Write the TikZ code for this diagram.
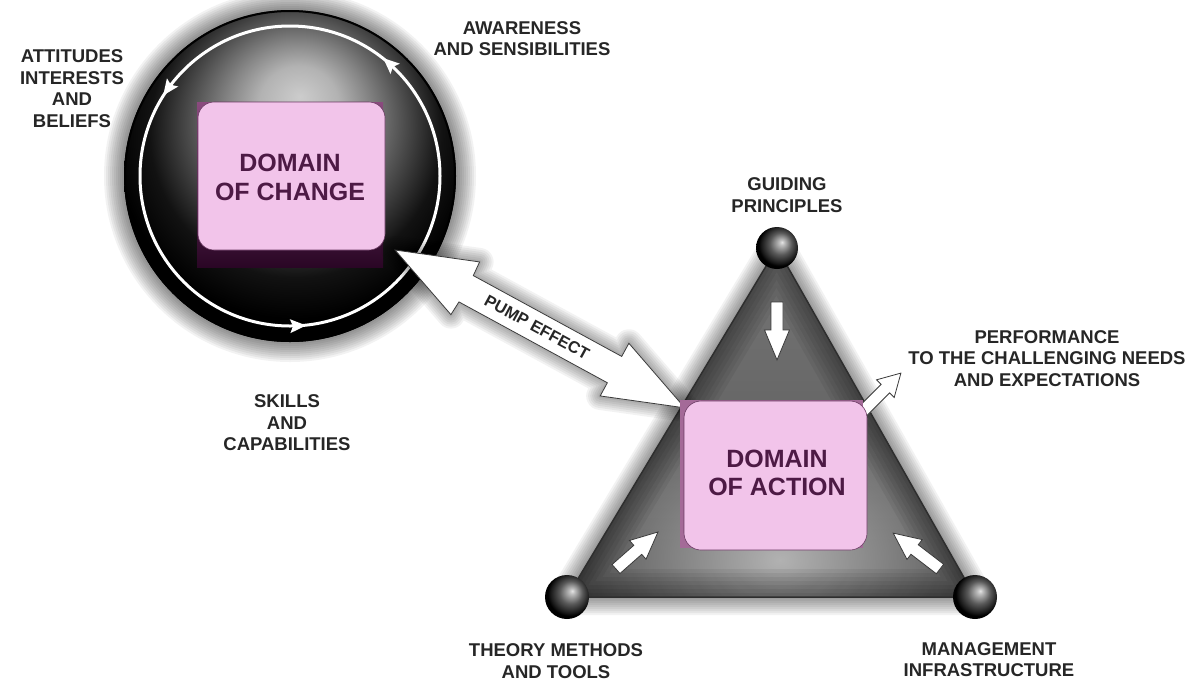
\documentclass[tikz,border=0pt]{standalone}
\usepackage{fontspec}
\setmainfont{Liberation Sans}
\usetikzlibrary{fadings}
\definecolor{pinkf}{HTML}{F2C4EA}
\definecolor{pinkE}{HTML}{6A3A62}
\definecolor{pinktx}{HTML}{4D1A45}
\definecolor{mauve}{HTML}{A46A98}
\definecolor{mauveT}{HTML}{8A4A7E}
\definecolor{mauveD}{HTML}{2A0625}
\definecolor{labeltx}{HTML}{262626}
\definecolor{triA}{HTML}{767676}
\definecolor{triB}{HTML}{555555}
\definecolor{triL}{HTML}{B2B2B2}
\definecolor{triE}{HTML}{2E2E2E}
\definecolor{arrE}{HTML}{3A3A3A}
\pgfdeclareradialshading{cbody}{\pgfpoint{1.5bp}{12bp}}{color(0bp)=(white!80!black); color(6bp)=(white!70!black); color(10.5bp)=(white!53!black); color(17bp)=(white!27!black); color(22bp)=(white!7!black); color(27bp)=(black); color(50bp)=(black)}
\pgfdeclareradialshading{sball}{\pgfpoint{6bp}{7bp}}{color(0bp)=(white!90!black); color(3bp)=(white!75!black); color(13bp)=(white!35!black); color(22bp)=(black!90); color(25bp)=(black); color(50bp)=(black)}
\tikzfading[name=radfade, inner color=transparent!0, outer color=transparent!100]
\tikzset{
  lbl/.style={font=\bfseries\fontsize{18.5}{21.5}\selectfont, text=labeltx, align=center, inner sep=0pt},
  boxtxt/.style={font=\bfseries\fontsize{25}{28.5}\selectfont, text=pinktx, align=center, inner sep=0pt},
  pumptxt/.style={font=\bfseries\fontsize{16.5}{18}\selectfont, text=labeltx, inner sep=0pt},
  blk/.style={fill=white, draw=arrE, line width=0.8pt, line join=miter},
  halo/.style={line join=round, draw=black, opacity=0.05},
  pinkbox/.style={fill=pinkf, draw=pinkE, line width=0.6pt},
}
\newcommand\blkarr[7]{%
  \begin{scope}[shift={(#1,#2)}, rotate=#3]
    \draw[blk] (0,-#5) -- ({#4-#7},-#5) -- ({#4-#7},-#6) -- (#4,0) -- ({#4-#7},#6) -- ({#4-#7},#5) -- (0,#5) -- cycle;
  \end{scope}}
\begin{document}
\begin{tikzpicture}[x=1pt,y=-1pt]
\useasboundingbox[fill=white] (0,0) rectangle (1197,681);
% ---------- circle ----------
\coordinate (cc) at (290,176);
\foreach \w in {4,8,...,40} \draw[halo, line width=\w pt] (cc) circle (166);
\shade[shading=cbody] (cc) circle (166);
\draw[black, line width=2pt] (cc) circle (165);
\draw[white, line width=3pt] (cc) circle (150);
\foreach \a in {48.2,144.1,-87.3}
  \fill[white, shift={(cc)}, rotate=\a] (150,-9) -- (157,7) -- (150,4) -- (143,7) -- cycle;
\shade[top color=mauveT, bottom color=mauveD] (197,102) rectangle (383,267);
\filldraw[pinkbox, rounded corners=16pt] (198,102) rectangle (385,250);
\node[boxtxt] (chg) at (290,177.5) {DOMAIN\\OF CHANGE};
% ---------- triangle ----------
\coordinate (tl) at (567,597);
\coordinate (tr) at (975,597);
\coordinate (tt) at (777,248);
\foreach \w in {4,8,...,36} \draw[halo, line width=\w pt] (tl) -- (tr) -- (tt) -- cycle;
\begin{scope}
  \clip (tl) -- (tr) -- (tt) -- cycle;
  \shade[top color=triA, bottom color=triB] (tl) -- (tr) -- (tt) -- cycle;
  \fill[triL, path fading=radfade] (780,560) ellipse (200 and 150);
  \foreach \w in {8,16,...,56} \draw[black, opacity=0.06, line width=\w pt, line join=round] (tl) -- (tr) -- (tt) -- cycle;
\end{scope}
\draw[triE, line width=1.5pt, line join=round] (tl) -- (tr) -- (tt) -- cycle;
\shade[shading=sball] (tl) circle (22);
\shade[shading=sball] (tr) circle (22);
\shade[shading=sball] (tt) circle (21);
% small arrows
\blkarr{777}{302}{-90}{58}{6}{12.5}{30}
\blkarr{616}{569}{41.4}{56}{6}{12.5}{27}
\blkarr{940}{569}{142.5}{59}{6}{12.5}{27}
\blkarr{850}{424}{45}{72}{6}{12.5}{22}
% ---------- pump arrow ----------
\begin{scope}[shift={(395,250)}, rotate=-28.58]
  \foreach \w in {4,8,...,28}
    \draw[halo, line width=\w pt] (0,0) -- (80,-30) -- (81,-15) -- (250,-15) -- (250,-30) -- (330,0) -- (250,30) -- (250,15) -- (81,15) -- (80,30) -- cycle;
  \draw[blk] (0,0) -- (80,-30) -- (81,-15) -- (250,-15) -- (250,-30) -- (330,0) -- (250,30) -- (250,15) -- (81,15) -- (80,30) -- cycle;
\end{scope}
\node[pumptxt, rotate=-28.58] (pump) at (537,327) {PUMP EFFECT};
% action box
\fill[mauve] (680,400) rectangle (863,548);
\filldraw[pinkbox, rounded corners=17pt] (684,401) rectangle (867,550);
\node[boxtxt] (act) at (777,473) {DOMAIN\\OF ACTION};
% ---------- labels ----------
\node[lbl] (att) at (72,88.5) {ATTITUDES\\INTERESTS\\AND\\BELIEFS};
\node[lbl] (awa) at (522,38.5) {AWARENESS\\AND SENSIBILITIES};
\node[lbl] (gui) at (787,195) {GUIDING\\PRINCIPLES};
\node[lbl] (perf) at (1047,358.5) {PERFORMANCE\\TO THE CHALLENGING NEEDS\\AND EXPECTATIONS};
\node[lbl] (ski) at (287,423) {SKILLS\\AND\\CAPABILITIES};
\node[lbl] (the) at (556,661) {THEORY METHODS\\AND TOOLS};
\node[lbl] (man) at (989,659.5) {MANAGEMENT\\INFRASTRUCTURE};
\end{tikzpicture}
\end{document}
